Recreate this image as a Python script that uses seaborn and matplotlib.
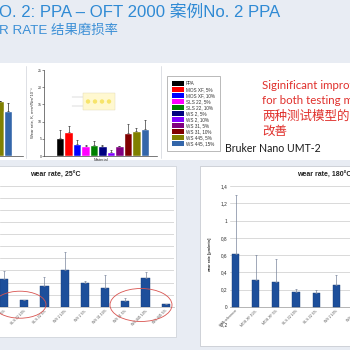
import numpy as np
import pandas as pd
import matplotlib
matplotlib.use("Agg")
import matplotlib.pyplot as plt
import seaborn as sns
from matplotlib.patches import Rectangle, Ellipse, Patch, Circle
from matplotlib.lines import Line2D

sns.set_theme(style="white")
plt.rcParams['font.family'] = ['Liberation Sans', 'Noto Sans CJK SC', 'DejaVu Sans']

# ---------------- data ----------------
# top chart (wear rate K, OFT)
top_materials = ["PPA", "MOS XF, 5%", "MOS XF, 10%", "SLS 22, 5%", "SLS 22, 10%",
                 "WS 2, 5%", "WS 2, 10%", "WS 31, 5%", "WS 31, 10%", "WS 445, 5%", "WS 445, 15%"]
top_values = [5.1, 7.05, 3.6, 2.85, 3.3, 2.85, 1.3, 2.85, 6.8, 7.2, 7.8]
top_errors = [2.55, 1.55, 1.0, 0.25, 1.1, 0.25, 0.4, 0.15, 2.5, 0.8, 2.7]
top_colors = ["#000000", "#ff0000", "#0000ff", "#ff00ff", "#008000", "#000080",
              "#8000ff", "#800080", "#800000", "#808000", "#3366aa"]

# partially visible chart at top left
left_materials = ["WS 445, 5%", "WS 445, 15%"]
left_values = [16.0, 13.2]
left_errors = [np.nan, 2.3]
left_colors = ["#808000", "#3366aa"]

# wear rate 25°C (visible part)
c25_categories = ["MOS XF 5%", "SLS 22 10%", "SLS 22 5%", "WS 2 10%", "WS 2 5%",
                  "WS 31 10%", "WS 31 5%", "WS 445 10%", "WS 445 5%"]
c25_values = [0.226, 0.055, 0.171, 0.306, 0.198, 0.155, 0.045, 0.235, 0.025]
c25_errors = [0.069, 0.0, 0.074, 0.149, 0.014, 0.107, 0.024, 0.054, 0.0]

# wear rate 180°C (visible part)
c180_categories = ["PPA reference", "MOS XF 10%", "MOS XF 5%", "SLS 22 10%",
                   "SLS 22 5%", "WS 2 10%", "WS 2 5%"]
c180_values = [0.61, 0.31, 0.29, 0.173, 0.165, 0.25]
c180_errors = [0.69, 0.29, 0.26, 0.037, 0.035, 0.12]
c180_ticks = [-0.2, 0.0, 0.2, 0.4, 0.6, 0.8, 1.0, 1.2, 1.4]
c180_ticklabels = ["-0,2", "0", "0,2", "0,4", "0,6", "0,8", "1", "1,2", "1,4"]

W = H = 350.0
fig = plt.figure(figsize=(3.5, 3.5), dpi=100)
fig.patch.set_facecolor("#e8ecf3")

def rect(x0, y0, x1, y1):
    return [x0 / W, 1 - y1 / H, (x1 - x0) / W, (y1 - y0) / H]

def frect(x0, y0, x1, y1, fc, ec="none", lw=0.0, z=-5):
    fig.patches.append(Rectangle((x0 / W, 1 - y1 / H), (x1 - x0) / W, (y1 - y0) / H,
                                 transform=fig.transFigure, facecolor=fc,
                                 edgecolor=ec, linewidth=lw, zorder=z))

def fline(x0, y0, x1, y1, color, lw=0.6, z=-4):
    fig.lines.append(Line2D([x0 / W, x1 / W], [1 - y0 / H, 1 - y1 / H],
                            transform=fig.transFigure, color=color, lw=lw, zorder=z))

def ftext(x, y, s, **kw):
    fig.text(x / W, 1 - y / H, s, **kw)

# panels
frect(-2, 63, 352, 160, "#ffffff")
frect(-2, 166, 176, 337, "#ffffff", ec="#d0d4da", lw=0.6)
frect(200, 166, 352, 346, "#ffffff", ec="#c8ccd2", lw=0.6)
fline(26, 66, 26, 158, "#d8dbe0")
fline(161, 66, 161, 158, "#d8dbe0")

# title texts
ftext(-1, 12.5, "O. 2: PPA – OFT 2000 案例No. 2 PPA", fontsize=12.1, color="#2f8ad4",
      va="center", ha="left")
ftext(-1, 31, "R RATE 结果磨损率", fontsize=9.6, color="#3b8fd6", va="center", ha="left")

# ---------------- top-left partial chart ----------------
ax0 = fig.add_axes(rect(-30, 70, 23, 156))
df0 = pd.DataFrame({"Material": left_materials, "val": left_values})
sns.barplot(data=df0, x="Material", y="val", hue="Material", palette=left_colors,
            width=1.0, dodge=False, legend=False, ax=ax0, saturation=1)
ax0.errorbar(range(len(left_values)), left_values,
             yerr=[np.zeros(len(left_values)), np.nan_to_num(left_errors)],
             fmt="none", ecolor="#222222", lw=0.5, capsize=1.0, capthick=0.5)
ax0.set_xlim(-3.6, 2.79)
ax0.set_ylim(0, 25)
ax0.set_facecolor("none")
for s in ["top", "right", "left"]:
    ax0.spines[s].set_visible(False)
ax0.spines["bottom"].set_color("#444444")
ax0.spines["bottom"].set_linewidth(0.5)
ax0.set_xticks([]); ax0.set_yticks([])
ax0.set_xlabel(""); ax0.set_ylabel("")

# ---------------- top middle chart ----------------
ax1 = fig.add_axes(rect(44.3, 70, 157, 156))
df1 = pd.DataFrame({"Material": top_materials, "val": top_values})
sns.barplot(data=df1, x="Material", y="val", hue="Material", palette=top_colors,
            width=1.0, dodge=False, legend=False, ax=ax1, saturation=1)
ax1.errorbar(range(len(top_values)), top_values,
             yerr=[np.zeros(len(top_values)), top_errors],
             fmt="none", ecolor="#222222", lw=0.45, capsize=1.0, capthick=0.45)
ax1.set_xlim(-1.885, 11.45)
ax1.set_ylim(0, 25)
ax1.set_facecolor("none")
for s in ["top", "right"]:
    ax1.spines[s].set_visible(False)
for s in ["left", "bottom"]:
    ax1.spines[s].set_color("#444444")
    ax1.spines[s].set_linewidth(0.5)
ax1.set_yticks([0, 5, 10, 15, 20, 25])
ax1.tick_params(axis="y", labelsize=2.6, length=1.2, width=0.4, pad=0.8,
                colors="#333333", left=True)
ax1.set_xticks([])
ax1.set_xlabel("Material", fontsize=3, labelpad=1.5, color="#333333")
ax1.set_ylabel("Wear rate, K, mm³/Nm*10⁻⁶", fontsize=3, labelpad=2.5, color="#333333")

# schematic inset
frect(83, 93, 115, 110, "#fff8d0", ec="#e0d8b0", lw=0.3, z=3)
for cx in [88, 95, 102, 109]:
    fig.patches.append(Circle((cx / W, 1 - 101.5 / H), 2.2 / W, transform=fig.transFigure,
                              facecolor="#f7e46a", edgecolor="none", zorder=4))
fline(72, 97, 83, 97, "#b0b0b0", lw=0.3, z=3)
fline(72, 106, 83, 106, "#b0b0b0", lw=0.3, z=3)

# legend
handles = [Patch(facecolor=c, edgecolor="none") for c in top_colors]
leg = fig.legend(handles, top_materials, loc="upper left",
                 bbox_to_anchor=(167.3 / W, 1 - 75.7 / H), fontsize=3.3,
                 handlelength=2.6, handleheight=1.3, labelspacing=0.22,
                 handletextpad=0.3, borderpad=1.1, borderaxespad=0,
                 frameon=True, fancybox=False)
leg.get_frame().set_edgecolor("#9a9a9a")
leg.get_frame().set_linewidth(0.6)
for t in leg.get_texts():
    t.set_color("#333333")

# red annotation text
red = "#e0302c"
ftext(262, 85.5, "Siginificant improvement", fontsize=8.3, color=red, va="center",
      family=["Lato", "Noto Sans CJK SC"])
ftext(262, 101, "for both testing models", fontsize=8.3, color=red, va="center",
      family=["Lato", "Noto Sans CJK SC"])
ftext(262, 116.5, "两种测试模型的显著", fontsize=9, color=red, va="center",
      family=["Noto Sans CJK SC"])
ftext(262, 131.5, "改善", fontsize=9, color=red, va="center",
      family=["Noto Sans CJK SC"])
ftext(225, 148, "Bruker Nano UMT-2", fontsize=7.6, color="#1a1a1a", va="center",
      family=["Lato"])

# ---------------- bottom-left chart: 25°C ----------------
bar_blue = "#1d4f9b"
ax2 = fig.add_axes(rect(0, 185.7, 174, 306.7))
df2 = pd.DataFrame({"cat": c25_categories, "val": c25_values})
sns.barplot(data=df2, x="cat", y="val", color=bar_blue, width=0.4, ax=ax2,
            saturation=1, edgecolor="#143a75", linewidth=0.3, zorder=3)
ax2.errorbar(range(len(c25_values)), c25_values,
             yerr=[np.zeros(len(c25_values)), c25_errors],
             fmt="none", ecolor="#7a869c", lw=0.5, capsize=1.0, capthick=0.5, zorder=4)
ax2.set_xlim(-0.2, 8.41)
ax2.set_ylim(0, 1.0)
ax2.set_yticks(np.arange(0, 1.01, 0.1))
ax2.set_yticklabels([])
ax2.tick_params(axis="y", length=0)
ax2.grid(axis="y", color="#d9d9d9", lw=0.7, zorder=0)
ax2.set_axisbelow(True)
for s in ["top", "right", "left"]:
    ax2.spines[s].set_visible(False)
ax2.spines["bottom"].set_color("#c0c0c0")
ax2.spines["bottom"].set_linewidth(0.6)
ax2.set_xticks(range(len(c25_categories)))
ax2.set_xticklabels(c25_categories, rotation=45, ha="right", rotation_mode="anchor",
                    fontsize=2.6, color="#555555")
ax2.tick_params(axis="x", length=0, pad=1.5)
ax2.set_xlabel(""); ax2.set_ylabel("")
ax2.set_facecolor("none")
ftext(55, 175, "wear rate, 25°C", fontsize=5, fontweight="bold", color="#222222",
      ha="center", va="center")

# red ellipses
for (cx, cy, w, h) in [(20, 304.7, 52, 27), (141, 305, 62, 33)]:
    fig.patches.append(Ellipse((cx / W, 1 - cy / H), w / W, h / H,
                               transform=fig.transFigure, facecolor="none",
                               edgecolor="#d9534f", lw=0.6, zorder=10))

# ---------------- bottom-right chart: 180°C ----------------
ax3 = fig.add_axes(rect(230, 186, 400, 324.3))
df3 = pd.DataFrame({"cat": c180_categories[:len(c180_values)], "val": c180_values})
sns.barplot(data=df3, x="cat", y="val", order=c180_categories, color=bar_blue,
            width=0.35, ax=ax3, saturation=1, edgecolor="#143a75", linewidth=0.3, zorder=3)
ax3.errorbar(range(len(c180_values)), c180_values,
             yerr=[np.zeros(len(c180_values)), c180_errors],
             fmt="none", ecolor="#7a869c", lw=0.5, capsize=1.0, capthick=0.5, zorder=4)
ax3.set_xlim(-0.28, 8.17)
ax3.set_ylim(-0.2, 1.4)
ax3.set_yticks(c180_ticks)
ax3.set_yticklabels(c180_ticklabels)
ax3.tick_params(axis="y", length=0, pad=1.8, labelsize=3.4, labelcolor="#2a2a2a",
                left=True, labelleft=True)
ax3.grid(axis="y", color="#d9d9d9", lw=0.7, zorder=0)
ax3.set_axisbelow(True)
for s in ["top", "right", "left"]:
    ax3.spines[s].set_visible(False)
ax3.spines["bottom"].set_position(("data", 0))
ax3.spines["bottom"].set_color("#b0b0b0")
ax3.spines["bottom"].set_linewidth(0.6)
ax3.set_xticks(range(len(c180_categories)))
ax3.set_xticklabels(c180_categories, rotation=45, ha="right", rotation_mode="anchor",
                    fontsize=2.6, color="#555555")
ax3.tick_params(axis="x", length=0, pad=1.5)
ax3.set_xlabel(""); ax3.set_ylabel("")
ax3.set_facecolor("none")
ftext(210, 255, "wear rate [µm/min]", fontsize=2.8, fontweight="bold", color="#333333",
      rotation=90, ha="center", va="center")
ftext(297, 175, "wear rate, 180°C", fontsize=5, fontweight="bold", color="#222222",
      ha="left", va="center")

fig.savefig("out.png", dpi=100)
